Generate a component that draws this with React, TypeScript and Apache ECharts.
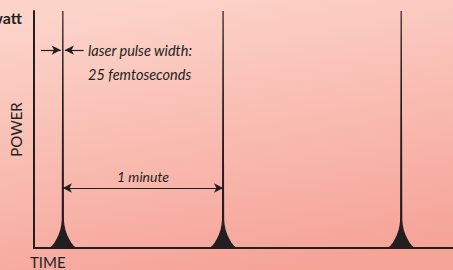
import React, { useEffect, useRef } from "react";
import * as echarts from "echarts";

// Pulse arrival times (seconds) — spacing between first two pulses is "1 minute"
const pulseTimes: number[] = [0, 60, 126.7];
// Cusp profile of one pulse: offset from pulse centre (s) and power (% of peak)
const pulseOffsets: number[] = [0, 0.19, 0.37, 0.75, 1.12, 1.49, 1.86, 2.24, 2.98, 3.73, 4.47, 4.85];
const pulseHeights: number[] = [100, 11.8, 9.7, 7.6, 6.3, 5.3, 4.4, 3.6, 2.1, 1.0, 0.25, 0];
// Axis extent
const timeRange: number[] = [-10.8, 146.1];
const powerRange: number[] = [0, 100];
// Annotations
const minuteSpan: number[] = [0, 60];
const minuteLevel = 25.3;
const widthArrowLeft: number[] = [-8.2, -0.8];
const widthArrowRight: number[] = [7.8, 0.75];
const widthArrowLevel = 83.5;
const texts = {
  peak: "1 watt",
  power: "POWER",
  time: "TIME",
  pulseWidth1: "laser pulse width:",
  pulseWidth2: "25 femtoseconds",
  minute: "1 minute",
};

const INK = "#231f20";
const FONT = "Lato";

function pulseData(t: number): number[][] {
  const pts: number[][] = [];
  for (let i = pulseOffsets.length - 1; i >= 1; i--) pts.push([t - pulseOffsets[i], pulseHeights[i]]);
  pts.push([t, pulseHeights[0]]);
  for (let i = 1; i < pulseOffsets.length; i++) pts.push([t + pulseOffsets[i], pulseHeights[i]]);
  return pts;
}

export default function App() {
  const ref = useRef<HTMLDivElement>(null);
  useEffect(() => {
    if (!ref.current) return;
    const chart = echarts.init(ref.current, null, { renderer: "svg" });
    const arrowLine = {
      type: "solid" as const,
      color: INK,
      width: 1.2,
    };
    const series: any[] = pulseTimes.map((t, i) => ({
      type: "line",
      data: pulseData(t),
      symbol: "none",
      smooth: false,
      silent: true,
      lineStyle: { color: INK, width: 1.2 },
      areaStyle: { color: INK, opacity: 1 },
      z: 3,
      markLine:
        i === 0
          ? {
              silent: true,
              animation: false,
              precision: 3,
              lineStyle: arrowLine,
              data: [
                [
                  {
                    coord: [minuteSpan[0], minuteLevel],
                    symbol: "arrow",
                    symbolSize: [7, 9],
                    label: {
                      show: true,
                      position: "middle",
                      formatter: texts.minute,
                      color: INK,
                      fontFamily: FONT,
                      fontStyle: "italic",
                      fontSize: 14,
                      distance: 5,
                    },
                  },
                  { coord: [minuteSpan[1], minuteLevel], symbol: "arrow", symbolSize: [7, 9] },
                ],
                [
                  { coord: [widthArrowLeft[0], widthArrowLevel], symbol: "none", label: { show: false } },
                  { coord: [widthArrowLeft[1], widthArrowLevel], symbol: "arrow", symbolSize: [7, 9] },
                ],
                [
                  { coord: [widthArrowRight[0], widthArrowLevel], symbol: "none", label: { show: false } },
                  { coord: [widthArrowRight[1], widthArrowLevel], symbol: "arrow", symbolSize: [7, 9] },
                ],
              ],
            }
          : undefined,
    }));

    chart.setOption({
      animation: false,
      backgroundColor: {
        type: "linear",
        x: 0.35,
        y: 0,
        x2: 0.65,
        y2: 1,
        colorStops: [
          { offset: 0, color: "#fcd3c9" },
          { offset: 1, color: "#f6a398" },
        ],
      },
      grid: { left: 32, right: 0, top: 11, bottom: 22 },
      xAxis: {
        type: "value",
        min: timeRange[0],
        max: timeRange[1],
        axisLine: { show: true, onZero: true, lineStyle: { color: INK, width: 2 } },
        axisTick: { show: false },
        axisLabel: { show: false },
        splitLine: { show: false },
      },
      yAxis: {
        type: "value",
        min: powerRange[0],
        max: powerRange[1],
        name: texts.power,
        nameLocation: "middle",
        nameRotate: 90,
        nameGap: 11,
        nameTextStyle: { color: INK, fontFamily: FONT, fontSize: 15 },
        axisLine: { show: true, onZero: false, lineStyle: { color: INK, width: 2 } },
        axisTick: { show: false },
        axisLabel: { show: false },
        splitLine: { show: false },
      },
      graphic: [
        {
          type: "text",
          x: 22,
          y: 17,
          style: {
            text: texts.peak,
            align: "right",
            verticalAlign: "middle",
            fill: INK,
            font: `bold 16px ${FONT}`,
          },
        },
        {
          type: "text",
          x: 30,
          y: 254,
          style: {
            text: texts.time,
            align: "left",
            verticalAlign: "top",
            fill: INK,
            font: `15px ${FONT}`,
          },
        },
        {
          type: "text",
          x: 88,
          y: 50,
          style: {
            text: texts.pulseWidth1,
            align: "left",
            verticalAlign: "middle",
            fill: INK,
            font: `italic 14.5px ${FONT}`,
          },
        },
        {
          type: "text",
          x: 88,
          y: 74,
          style: {
            text: texts.pulseWidth2,
            align: "left",
            verticalAlign: "middle",
            fill: INK,
            font: `italic 14.5px ${FONT}`,
          },
        },
      ],
      series,
    });
    return () => chart.dispose();
  }, []);
  return (
    <div
      ref={ref}
      style={{ position: "fixed", left: 0, top: 0, width: 453, height: 270 }}
    />
  );
}
